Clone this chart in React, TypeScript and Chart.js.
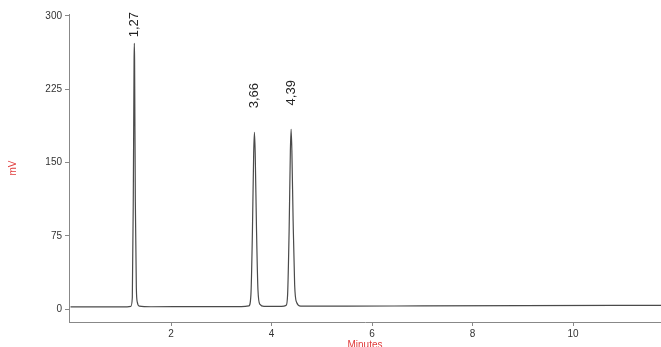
import React, { useEffect, useRef } from "react";
import { Chart, registerables } from "chart.js";

Chart.register(...registerables);

// Retention time (min) and detector signal (mV)
const timeMin = [
  0.0, 0.6, 1.1, 1.2, 1.23, 1.25, 1.265, 1.27, 1.275, 1.29, 1.31, 1.33, 1.37, 1.6,
  2.5, 3.4, 3.55, 3.59, 3.62, 3.645, 3.66, 3.675, 3.7, 3.73, 3.77, 3.85,
  4.2, 4.29, 4.32, 4.35, 4.375, 4.39, 4.405, 4.43, 4.46, 4.5, 4.58,
  5.5, 7.0, 9.0, 11.75,
];
const signalMV = [
  2.4, 2.5, 2.5, 3.0, 12, 120, 255, 272, 255, 110, 22, 7, 3.2, 2.6,
  2.7, 2.8, 3.5, 15, 80, 160, 181, 160, 85, 20, 5, 3,
  3, 4, 15, 80, 162, 184, 162, 90, 25, 7, 3.3,
  3.2, 3.5, 3.8, 4.0,
];

// Peak annotations
const peakTimes = [1.27, 3.66, 4.39];
const peakHeights = [272, 181, 184];
const peakLabels = ["1,27", "3,66", "4,39"];

// Axis ticks
const yTicks = [0, 75, 150, 225, 300];
const xTicks = [2, 4, 6, 8, 10];

const FONT = "'Liberation Sans', Arial, sans-serif";

const peakLabelPlugin = {
  id: "peakLabels",
  afterDatasetsDraw(chart: any) {
    const { ctx, chartArea, scales } = chart;
    const xs = scales.x;
    const ys = scales.y;
    ctx.save();
    ctx.font = `13px ${FONT}`;
    ctx.fillStyle = "#222";
    ctx.textAlign = "left";
    ctx.textBaseline = "middle";
    peakTimes.forEach((t, i) => {
      const label = peakLabels[i];
      const x = xs.getPixelForValue(t);
      const yTop = ys.getPixelForValue(peakHeights[i]);
      const w = ctx.measureText(label).width;
      const yEnd = Math.max(yTop - 24, chartArea.top - 2 + w);
      ctx.save();
      ctx.translate(x, yEnd);
      ctx.rotate(-Math.PI / 2);
      ctx.fillText(label, 0, 0);
      ctx.restore();
    });
    ctx.restore();
  },
};

export default function App() {
  const canvasRef = useRef<HTMLCanvasElement | null>(null);

  useEffect(() => {
    if (!canvasRef.current) return;
    const chart = new Chart(canvasRef.current, {
      type: "line",
      data: {
        datasets: [
          {
            data: timeMin.map((t, i) => ({ x: t, y: signalMV[i] })),
            borderColor: "#4a4a4a",
            borderWidth: 1.2,
            pointRadius: 0,
            cubicInterpolationMode: "monotone",
            fill: false,
          },
        ],
      },
      options: {
        animation: false,
        responsive: true,
        maintainAspectRatio: false,
        layout: { padding: { top: 14, right: 0, left: 0, bottom: 0 } },
        plugins: { legend: { display: false }, tooltip: { enabled: false } },
        scales: {
          x: {
            type: "linear",
            min: -0.03,
            max: 11.75,
            afterBuildTicks: (scale: any) => {
              scale.ticks = xTicks.map((v) => ({ value: v }));
            },
            afterFit: (scale: any) => {
              scale.height = 25;
            },
            grid: { display: true, drawOnChartArea: false, drawTicks: true, tickLength: 4, color: "#888" },
            border: { display: true, color: "#888", width: 1 },
            ticks: { color: "#333", font: { family: FONT, size: 10 }, padding: 2, maxRotation: 0 },
            title: {
              display: true,
              text: "Minutes",
              color: "#e03a3a",
              font: { family: FONT, size: 10 },
              padding: { top: 0, bottom: -4 },
            },
          },
          y: {
            type: "linear",
            min: -13,
            max: 302,
            afterBuildTicks: (scale: any) => {
              scale.ticks = yTicks.map((v) => ({ value: v }));
            },
            afterFit: (scale: any) => {
              scale.width = 69;
            },
            grid: { display: true, drawOnChartArea: false, drawTicks: true, tickLength: 4, color: "#888" },
            border: { display: true, color: "#888", width: 1 },
            ticks: { color: "#333", font: { family: FONT, size: 10 }, padding: 3 },
            title: {
              display: true,
              text: "mV",
              color: "#e03a3a",
              font: { family: FONT, size: 10 },
              padding: { top: 7, bottom: 0 },
            },
          },
        },
      },
      plugins: [peakLabelPlugin],
    });
    return () => chart.destroy();
  }, []);

  return (
    <div style={{ position: "fixed", left: 0, top: 0, width: 661, height: 347, background: "#fff" }}>
      <canvas ref={canvasRef} />
    </div>
  );
}
